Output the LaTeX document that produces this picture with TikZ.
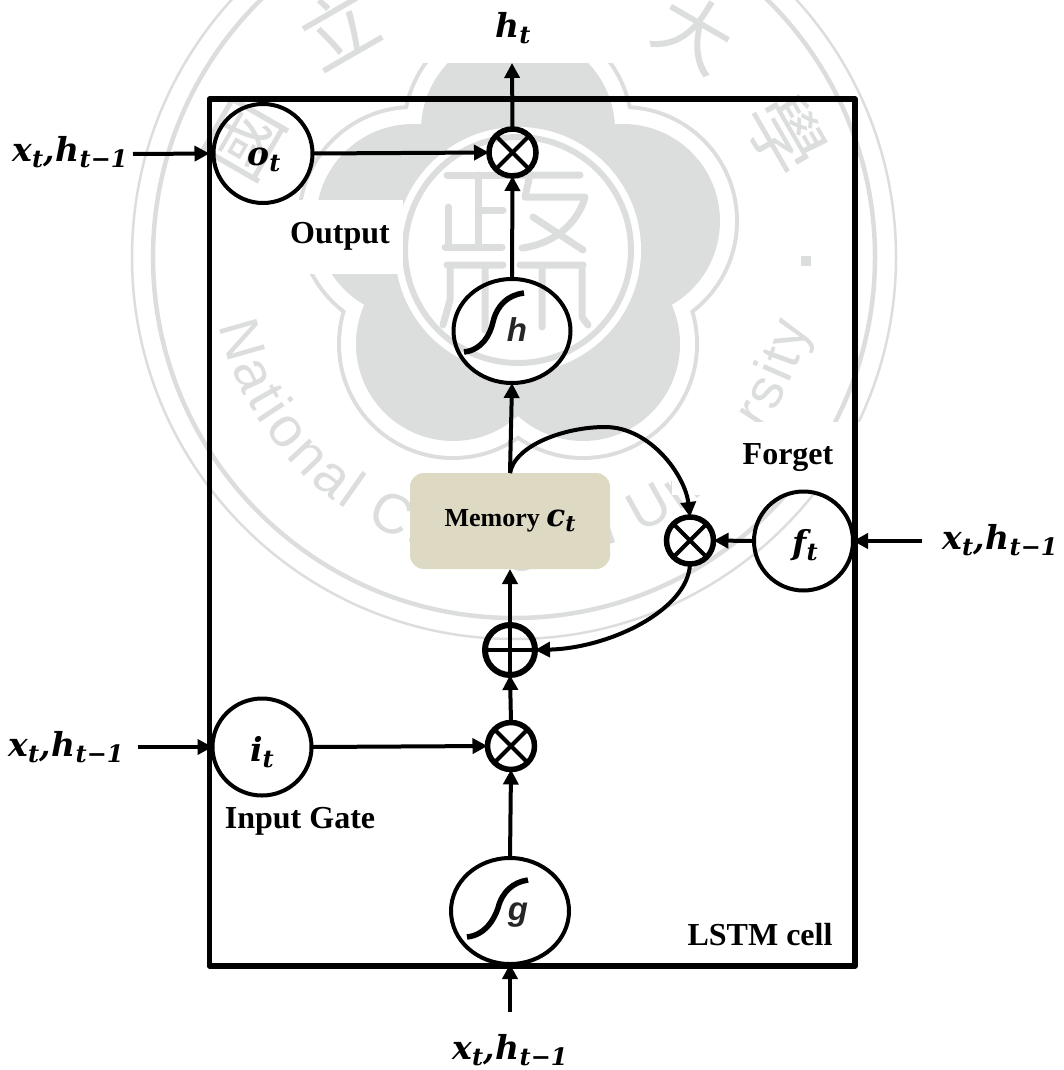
\documentclass[tikz,border=0pt]{standalone}
\usepackage{fontspec}
\setmainfont{Liberation Serif}
\newfontfamily\cjkfont{Noto Sans CJK TC}
\newfontfamily\mathlike{DejaVu Serif}
\newfontfamily\wmsans{Liberation Sans}
\usetikzlibrary{arrows.meta,shapes.geometric,decorations.text}
\definecolor{wm}{HTML}{DCDEDD}
\definecolor{memfill}{HTML}{DDD9C3}
\newcommand{\sz}[1]{\fontsize{#1}{#1}\selectfont}
\newcommand{\vlabel}[2]{{\mathlike\bfseries\itshape\sz{33}#1\raisebox{-6pt}{\sz{24}#2}}}
\newcommand{\inlabel}{{\mathlike\bfseries\itshape\sz{33}x\raisebox{-6pt}{\sz{24}t},\hspace{1pt}h\raisebox{-6pt}{\sz{24}t−1}}}
\tikzset{
  frame/.style={draw=black,line width=5.5pt,line join=round},
  gatecirc/.style={ellipse,draw=black,line width=4pt,inner sep=0pt,outer sep=0pt,minimum width=#1},
  timesop/.style={circle,draw=black,line width=5.5pt,inner sep=0pt,outer sep=0pt,minimum size=47pt,
    path picture={\draw[line width=4pt] (path picture bounding box.north west)--(path picture bounding box.south east)
      (path picture bounding box.north east)--(path picture bounding box.south west);}},
  plusop/.style={circle,draw=black,line width=6pt,inner sep=0pt,outer sep=0pt,minimum size=50pt,
    path picture={\draw[line width=4pt] (path picture bounding box.north)--(path picture bounding box.south)
      (path picture bounding box.west)--(path picture bounding box.east);}},
  conn/.style={draw=black,line width=4pt,-{Triangle[width=15pt,length=15pt]}},
  sig/.style={draw=black,line width=5.5pt},
  titlelabel/.style={font=\bfseries\sz{32},inner sep=0pt},
  sigletter/.style={font=\wmsans\bfseries\itshape\sz{33},text=black!85,inner sep=0pt},
  wmchar/.style={font=\cjkfont\sz{76},text=wm,inner sep=0pt},
  wmstroke/.style={draw=wm,line width=7pt,line cap=round,line join=round},
  cover/.style={fill=white,draw=none}
}
\begin{document}
\begin{tikzpicture}[x=1pt,y=-1pt]
\useasboundingbox (0,0) rectangle (1063,1070);
\fill[white] (0,0) rectangle (1063,1070);
% watermark: outer rings
\draw[wm,line width=2.5pt] (514,257) circle[radius=382pt];
\draw[wm,line width=4.5pt] (514,257) circle[radius=361pt];
% watermark: five-lobed flower
\foreach \p/\q in {518/130,413/221,623/221,453/344,583/344}{\draw[wm,line width=38pt] (\p,\q) circle[radius=97pt];}
\foreach \p/\q in {518/130,413/221,623/221,453/344,583/344}{\draw[white,line width=30pt] (\p,\q) circle[radius=97pt];}
\foreach \p/\q in {518/130,413/221,623/221,453/344,583/344}{\fill[wm] (\p,\q) circle[radius=97pt];}
\fill[wm] (518,255) circle[radius=110pt];
\fill[white] (518,250) circle[radius=123pt];
\fill[white] (512,331) ellipse[x radius=60pt,y radius=54pt];
\draw[wm,line width=6pt] (518,250) circle[radius=113pt];
% watermark: seal characters
\node[wmchar,rotate=60] (wA) at (245,140) {國};
\node[wmchar,rotate=30] (wB) at (338,28) {立};
\node[wmchar,rotate=-30] (wC) at (695,32) {大};
\node[wmchar,rotate=-60] (wD) at (786,134) {學};
\draw[wmstroke] (447,175)--(507,175) (478,175)--(478,247) (478,210)--(503,210) (448,207)--(448,247) (445,247)--(502,247);
\draw[wmstroke] (515,175)--(580,175) (530,175)--(525,197)--(585,197) .. controls (580,217) and (560,243) .. (522,248) (533,217)--(583,250);
\draw[wmstroke] (447,265)--(503,265) (450,265)--(450,300)--(443,325) (485,265)--(485,330) (520,265)--(583,265) (542,265)--(542,327) (582,265)--(582,317)--(588,325);
% watermark: ring text
\path[decorate,decoration={text along path,text align=fit to path,
  text={|\color{wm}\wmsans\sz{56}|National Chengchi University}}]
  plot[domain=167:13,samples=80] ({514+303*cos(\x)},{257+303*sin(\x)});
\fill[wm] (801,256) rectangle (811,266);
% white text boxes of the figure
\fill[cover] (400,0) rectangle (640,63);
\fill[cover] (270,200) rectangle (403,274);
\fill[cover] (672,422) rectangle (862,495);
% frame
\draw[frame] (209.5,99) rectangle (855,966);
% gates
\node[gatecirc=99pt,minimum height=99pt] (ot) at (263,153.5) {};
\node[gatecirc=99pt,minimum height=97pt] (it) at (262,747) {};
\node[gatecirc=99pt,minimum height=99pt] (ft) at (803.5,541) {};
\node[gatecirc=117pt,minimum height=104pt] (hh) at (512,331) {};
\node[gatecirc=118pt,minimum height=106pt] (gg) at (510,911) {};
\node[inner sep=0pt] (otl) at (264,160) {\vlabel{o}{t}};
\node[inner sep=0pt] (itl) at (262,752) {\vlabel{i}{t}};
\node[inner sep=0pt] (ftl) at (805,545) {\vlabel{f}{t}};
\node[sigletter] (hl) at (517,330) {h};
\node[sigletter] (gl) at (518,915) {g};
\draw[sig] (464,352) .. controls (482,350) and (490,335) .. (493,322) .. controls (497,305) and (508,295) .. (524,293);
\draw[sig] (467,937) .. controls (485,935) and (494,920) .. (498,908) .. controls (502,892) and (513,882) .. (528,880);
% memory
\node[rounded corners=14pt,fill=memfill,minimum width=200pt,minimum height=96pt,inner sep=0pt,outer sep=0pt,
  font=\bfseries\sz{26}] (mem) at (510,521) {Memory {\mathlike\itshape\sz{31}c\raisebox{-5pt}{\sz{22}t}}};
% operators
\node[timesop] (opA) at (512.5,152.5) {};
\node[timesop] (opB) at (690,540.5) {};
\node[plusop] (opC) at (510,650) {};
\node[timesop] (opD) at (511,746) {};
% free ends
\coordinate (topend) at (512,63);
\coordinate (leftA) at (133,154);
\coordinate (leftB) at (138,747);
\coordinate (rightA) at (922,541);
\coordinate (bottomA) at (510,1012);
% connectors
\draw[conn] (opA.north) -- (topend);
\draw[conn,shorten >=4pt] (leftA) -- (ot.west);
\draw[conn] (ot.east) -- (opA.west);
\draw[conn] (hh.north) -- (opA.south);
\draw[conn] (mem.north) -- (hh.south);
\draw[conn] (mem.north) .. controls (515,445) and (565,427) .. (605,427) .. controls (650,427) and (685,475) .. (opB.north);
\draw[conn] (ft.west) -- (opB.east);
\draw[conn] (opB.south) .. controls (688,610) and (610,648) .. (opC.east);
\draw[conn] (opC.north) -- (mem.south);
\draw[conn] (opD.north) -- (opC.south);
\draw[conn] (gg.north) -- (opD.south);
\draw[conn] (it.east) -- (opD.west);
\draw[conn] (leftB) -- (it.west);
\draw[conn] (rightA) -- (ft.east);
\draw[conn] (bottomA) -- (gg.south);
% labels
\node[inner sep=0pt] (lA) at (513,28) {\vlabel{h}{t}};
\node[inner sep=0pt] (lB) at (70,152) {\inlabel};
\node[inner sep=0pt] (lC) at (66,747) {\inlabel};
\node[inner sep=0pt] (lD) at (1000,540) {\inlabel};
\node[inner sep=0pt] (lE) at (510,1050) {\inlabel};
\node[titlelabel] (tA) at (340,236) {Output};
\node[titlelabel] (tB) at (788,458) {Forget};
\node[titlelabel] (tC) at (300,821) {Input Gate};
\node[titlelabel] (tD) at (760,935) {LSTM cell};
\end{tikzpicture}
\end{document}
